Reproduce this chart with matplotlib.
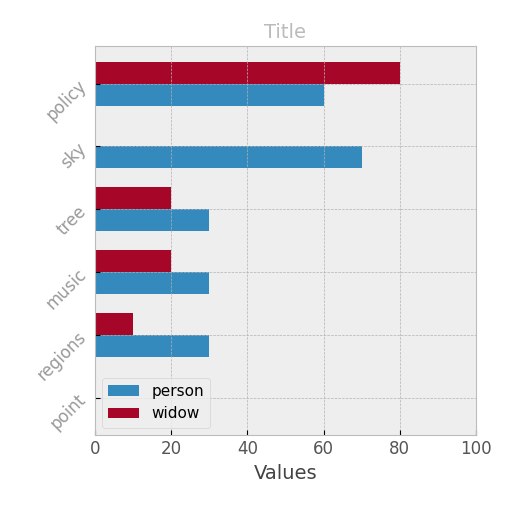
import matplotlib
matplotlib.use("Agg")
import matplotlib.pyplot as plt
import numpy as np

plt.style.use("bmh")
categories = ["policy", "sky", "tree", "music", "regions", "point"]
person = [60, 70, 30, 30, 30, 0]
widow = [80, 0, 20, 20, 10, 0]

fig, ax = plt.subplots(figsize=(5.12, 5.12), dpi=100)
y = np.arange(len(categories))
h = 0.35
ax.barh(y + h/2, person, h, label="person", color="#348ABD")
ax.barh(y - h/2, widow, h, label="widow", color="#A60628")
ax.set_yticks(y)
ax.set_yticklabels(categories, rotation=45, color="#999999", fontsize=12)
ax.tick_params(axis="x", labelsize=12, labelcolor="#555555")
ax.set_xlim(0, 100)
ax.set_ylim(5.6, -0.6)
ax.set_xlabel("Values", fontsize=14, color="#444444")
ax.set_title("Title", color="#bbbbbb", fontsize=14)
ax.grid(True, linestyle="--")
ax.legend(loc="lower left", fontsize=11)
fig.subplots_adjust(left=0.185, right=0.93, top=0.91, bottom=0.15)
fig.savefig("out.png")
